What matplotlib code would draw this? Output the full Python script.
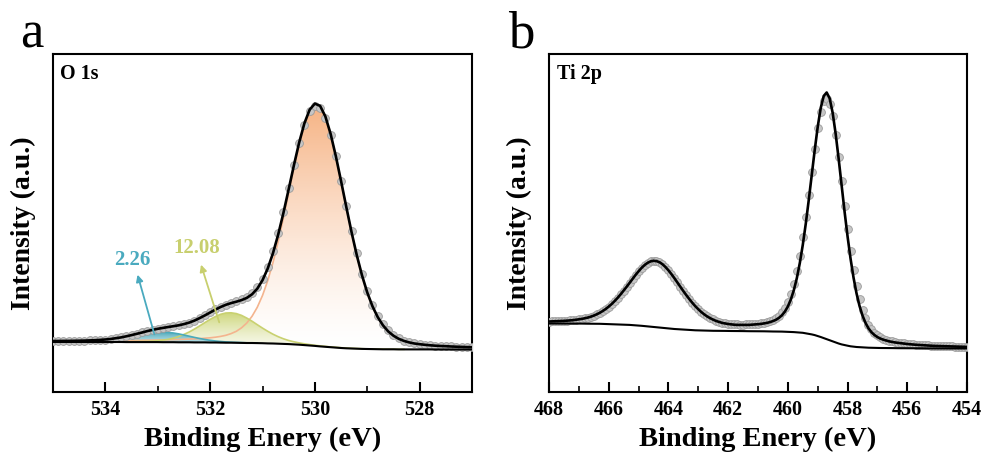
import numpy as np
import matplotlib
matplotlib.use("Agg")
import matplotlib.pyplot as plt
from matplotlib.colors import LinearSegmentedColormap
from matplotlib.ticker import MultipleLocator

# ---- O 1s (panel a), binding energy scan 535 -> 527 eV, 0.1 eV step ----
e_o1s = np.round(np.arange(535, 526.95, -0.1), 1)
o1s_data = [510, 510, 511, 511, 512, 513, 514, 516, 518, 521, 525, 531, 538, 547, 557, 569, 582, 596, 609, 622,
            633, 642, 650, 658, 667, 679, 695, 715, 739, 767, 797, 826, 852, 875, 893, 909, 927, 951, 989, 1048,
            1135, 1253, 1406, 1592, 1805, 2036, 2270, 2490, 2675, 2806, 2864, 2842, 2740, 2573, 2357, 2113, 1860, 1614, 1386, 1184,
            1013, 873, 763, 678, 616, 570, 538, 515, 499, 487, 479, 473, 468, 464, 461, 458, 456, 454, 452, 450,
            448]
o1s_fit = [510, 510, 511, 511, 512, 513, 514, 516, 518, 521, 525, 530, 538, 546, 557, 569, 582, 595, 609, 621,
           632, 641, 650, 658, 667, 679, 694, 714, 739, 766, 795, 824, 850, 872, 889, 903, 919, 941, 977, 1033,
           1118, 1235, 1388, 1575, 1792, 2028, 2268, 2495, 2687, 2823, 2884, 2861, 2756, 2582, 2359, 2109, 1850, 1599, 1368, 1166,
           995, 857, 749, 667, 606, 563, 532, 511, 496, 485, 478, 472, 467, 463, 460, 458, 455, 453, 451, 449,
           448]
o1s_bg = [500, 500, 500, 500, 500, 500, 500, 500, 500, 500, 500, 500, 500, 500, 499, 499, 499, 499, 499, 499,
          499, 498, 498, 498, 497, 497, 497, 496, 496, 496, 495, 495, 494, 493, 493, 492, 491, 490, 490, 489,
          488, 486, 485, 483, 481, 479, 476, 473, 469, 465, 461, 456, 452, 448, 444, 440, 437, 435, 433, 431,
          430, 429, 428, 427, 427, 427, 426, 426, 426, 426, 426, 426, 426, 425, 425, 425, 425, 425, 425, 425,
          425]
# lattice O (529.97 eV), full scan
peak_lattice = [508, 508, 509, 509, 509, 510, 510, 511, 511, 511, 512, 513, 513, 514, 515, 515, 516, 517, 518, 519,
                520, 521, 522, 524, 525, 527, 529, 532, 534, 538, 542, 548, 556, 567, 584, 607, 642, 690, 757, 847,
                965, 1114, 1294, 1505, 1741, 1991, 2242, 2477, 2674, 2814, 2877, 2855, 2751, 2578, 2356, 2106, 1847, 1597, 1366, 1164,
                993, 855, 747, 665, 605, 562, 531, 510, 495, 484, 477, 471, 466, 463, 459, 457, 454, 452, 450, 449,
                447]
# 531.6 eV component, scan points 1..67
peak_mid = [501, 501, 501, 501, 501, 501, 501, 501, 502, 502, 502, 502, 502, 502, 503, 504, 505, 506, 509, 513,
            519, 527, 539, 555, 576, 600, 629, 661, 694, 726, 754, 777, 790, 792, 784, 766, 739, 708, 673, 639,
            607, 578, 553, 532, 515, 502, 491, 482, 474, 467, 461, 456, 451, 447, 443, 440, 437, 435, 433, 431,
            430, 429, 429, 428, 428, 427, 427]
mid_span = (1, 68)
# 532.9 eV component, scan points 3..39
peak_high = [501, 501, 502, 502, 503, 505, 507, 511, 515, 522, 529, 539, 549, 561, 572, 583, 591, 597, 598, 596,
             590, 581, 570, 558, 546, 535, 525, 517, 510, 505, 501, 498, 496, 494, 492, 491, 490]
high_span = (3, 40)

# ---- Ti 2p (panel b), scan 468 -> 454 eV, 0.1 eV step ----
e_ti2p = np.round(np.arange(468, 453.95, -0.1), 1)
ti2p_data = [705, 706, 707, 709, 710, 712, 714, 716, 719, 722, 726, 731, 737, 744, 754, 765, 778, 793, 811, 831,
             854, 881, 910, 943, 977, 1015, 1053, 1093, 1133, 1172, 1209, 1242, 1270, 1293, 1307, 1314, 1311, 1299, 1279, 1252,
             1219, 1181, 1140, 1098, 1055, 1012, 971, 931, 895, 861, 831, 803, 780, 759, 741, 726, 714, 703, 695, 689,
             684, 680, 678, 676, 675, 675, 676, 677, 679, 681, 685, 689, 694, 701, 710, 723, 740, 764, 797, 841,
             902, 981, 1082, 1210, 1364, 1546, 1751, 1974, 2205, 2432, 2637, 2802, 2906, 2935, 2884, 2758, 2573, 2350, 2106, 1861,
             1626, 1410, 1221, 1059, 927, 820, 738, 674, 627, 592, 567, 547, 533, 522, 513, 506, 501, 495, 491, 487,
             484, 481, 478, 475, 473, 471, 469, 467, 465, 463, 462, 461, 459, 458, 457, 456, 455, 454, 453, 453,
             452]
ti2p_fit = [705, 706, 707, 708, 710, 711, 713, 716, 718, 722, 726, 731, 737, 744, 753, 764, 777, 792, 810, 830,
            854, 880, 910, 942, 977, 1014, 1052, 1092, 1132, 1171, 1207, 1241, 1269, 1291, 1306, 1312, 1309, 1298, 1278, 1250,
            1217, 1179, 1138, 1095, 1052, 1009, 968, 929, 892, 858, 828, 800, 776, 755, 738, 723, 710, 700, 691, 685,
            680, 676, 673, 671, 671, 670, 671, 671, 673, 675, 678, 681, 686, 691, 699, 709, 722, 741, 767, 804,
            855, 925, 1018, 1138, 1289, 1471, 1683, 1920, 2170, 2420, 2651, 2839, 2960, 2995, 2936, 2793, 2584, 2335, 2068, 1803,
            1555, 1333, 1143, 986, 861, 764, 691, 637, 598, 570, 549, 534, 523, 514, 506, 500, 495, 491, 487, 483,
            480, 477, 474, 472, 470, 468, 466, 464, 463, 461, 460, 459, 457, 456, 455, 454, 454, 453, 452, 451,
            451]
ti2p_bg = [685, 685, 685, 685, 685, 684, 684, 684, 684, 684, 684, 684, 683, 683, 683, 682, 682, 682, 681, 681,
           680, 679, 678, 677, 676, 674, 673, 671, 669, 667, 664, 662, 659, 656, 653, 650, 647, 644, 641, 638,
           635, 633, 630, 628, 625, 623, 622, 620, 619, 617, 616, 615, 614, 614, 613, 612, 612, 611, 611, 611,
           610, 610, 610, 609, 609, 609, 608, 608, 608, 608, 607, 607, 607, 606, 606, 605, 605, 604, 604, 603,
           602, 601, 599, 597, 595, 592, 587, 582, 576, 569, 560, 550, 539, 528, 517, 505, 495, 485, 476, 469,
           463, 457, 453, 450, 448, 446, 444, 443, 442, 441, 441, 440, 440, 439, 439, 439, 438, 438, 438, 438,
           438, 437, 437, 437, 437, 437, 436, 436, 436, 436, 436, 436, 436, 436, 436, 435, 435, 435, 435, 435,
           435]

plt.rcParams["font.family"] = ["Liberation Serif", "DejaVu Serif"]
fig = plt.figure(figsize=(9.87, 4.55), dpi=100)
ax1 = fig.add_axes([53 / 987, 1 - 392 / 455, 419 / 987, 338 / 455])
ax2 = fig.add_axes([549 / 987, 1 - 392 / 455, 418 / 987, 338 / 455])


def grad_fill(ax, x, top, base, c0, c1, z):
    # vertical colour ramp clipped to the area between component and background
    x, top, base = np.asarray(x), np.asarray(top), np.asarray(base)
    poly = ax.fill_between(x, base, top, color="none", lw=0)
    cmap = LinearSegmentedColormap.from_list("g", [c0, c1])
    g = (np.linspace(1, 0, 256) ** 1.4).reshape(-1, 1)
    im = ax.imshow(g, aspect="auto", cmap=cmap, origin="upper", zorder=z,
                   extent=[x.max(), x.min(), base.min(), top.max()])
    im.set_clip_path(poly.get_paths()[0], transform=ax.transData)


bg_a = np.array(o1s_bg)
m0, m1 = mid_span
h0, h1 = high_span
grad_fill(ax1, e_o1s, peak_lattice, bg_a, "#ffffff", "#f6b384", 1)
grad_fill(ax1, e_o1s[m0:m1], peak_mid, bg_a[m0:m1], "#f8f9ec", "#cdd67a", 1.1)
grad_fill(ax1, e_o1s[h0:h1], peak_high, bg_a[h0:h1], "#b5dde4", "#4ea9ba", 1.2)
ax1.plot(e_o1s, peak_lattice, color="#f4b48e", lw=1.2, zorder=2)
ax1.plot(e_o1s[m0:m1], peak_mid, color="#c9d170", lw=1.2, zorder=2)
ax1.plot(e_o1s[h0:h1], peak_high, color="#4aaaba", lw=1.2, zorder=2)

for ax, E, dat, fit, bg in [(ax1, e_o1s, o1s_data, o1s_fit, o1s_bg),
                            (ax2, e_ti2p, ti2p_data, ti2p_fit, ti2p_bg)]:
    ax.plot(E, dat, "o", ms=5.6, mfc="#c6c6c6", mec="#9a9a9a", mew=0.6, zorder=3)
    ax.plot(E, bg, color="black", lw=1.5, zorder=4)
    ax.plot(E, fit, color="black", lw=1.9, zorder=5)
    ax.set_ylim(0, 3380)
    ax.set_yticks([])
    ax.xaxis.set_major_locator(MultipleLocator(2))
    ax.xaxis.set_minor_locator(MultipleLocator(1))
    ax.tick_params(axis="x", which="major", direction="in", length=7, width=1.5, pad=6,
                   labelsize=14.5)
    ax.tick_params(axis="x", which="minor", direction="in", length=4, width=1.2)
    for s in ax.spines.values():
        s.set_linewidth(1.5)
    ax.set_xlabel("Binding Enery (eV)", fontsize=20.5, fontweight="bold")
    ax.set_ylabel("Intensity (a.u.)", fontsize=20, fontweight="bold")
    ax.xaxis.set_label_coords(0.5, -0.104)
    ax.yaxis.set_label_coords(-0.04, 0.5)

ax1.set_xlim(535, 527)
ax2.set_xlim(468, 454)
for lab in ax1.get_xticklabels() + ax2.get_xticklabels():
    lab.set_fontweight("bold")

ax1.text(0.0167, 0.941, "O 1s", transform=ax1.transAxes, fontsize=14.5, fontweight="bold", va="center")
ax2.text(0.019, 0.941, "Ti 2p", transform=ax2.transAxes, fontsize=14.5, fontweight="bold", va="center")
fig.text(20 / 987, 1 - 48 / 455, "a", fontsize=38, va="baseline")
fig.text(508 / 987, 1 - 48 / 455, "b", fontsize=38, va="baseline")

ax1.annotate("", xy=(533.40, 1200), xytext=(533.05, 550),
             arrowprops=dict(arrowstyle="-|>", color="#4aaabf", lw=1.3, mutation_scale=10), zorder=6)
ax1.text(533.49, 1320, "2.26", color="#4aaabf", fontsize=15, fontweight="bold", ha="center", va="center")
ax1.annotate("", xy=(532.19, 1300), xytext=(531.81, 670),
             arrowprops=dict(arrowstyle="-|>", color="#c8cf6e", lw=1.3, mutation_scale=10), zorder=6)
ax1.text(532.25, 1440, "12.08", color="#c8cf6e", fontsize=15, fontweight="bold", ha="center", va="center")

fig.savefig("out.png", dpi=100)
